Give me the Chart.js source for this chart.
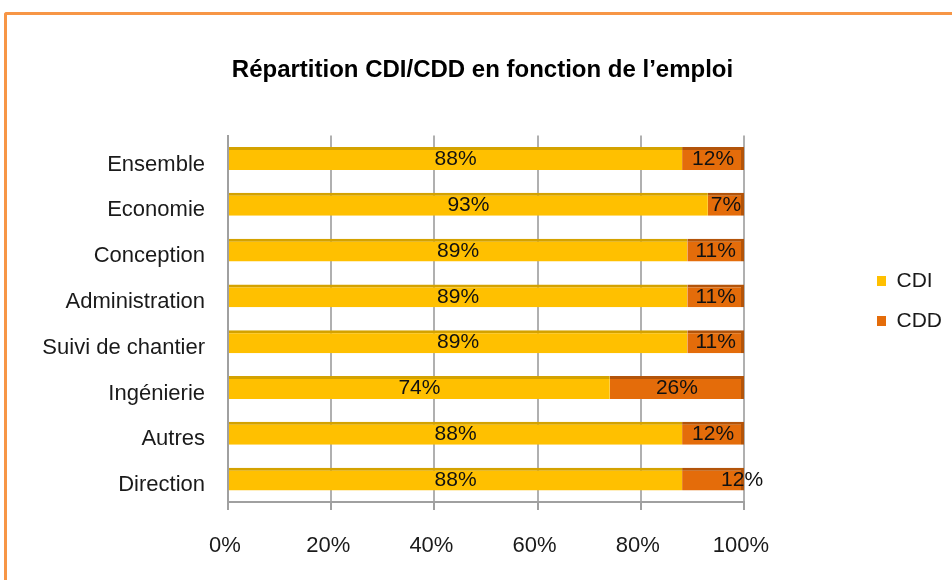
<!DOCTYPE html>
<html>
<head>
<meta charset="utf-8">
<script src="https://cdn.jsdelivr.net/npm/chart.js@4.4.1/dist/chart.umd.min.js"></script>
<style>
  html, body { margin: 0; padding: 0; background: #ffffff; overflow: hidden; }
  #wrap { position: relative; width: 952px; height: 580px; }
  #frame { position: absolute; left: 4px; top: 12px; width: 1000px; height: 700px;
           border-top: 3px solid #F79646; border-left: 3px solid #F79646; border-top-left-radius: 3px; }
  #c { position: absolute; left: 0; top: 0; }
</style>
</head>
<body>
<div id="wrap">
  <div id="frame"></div>
  <canvas id="c" width="952" height="580"></canvas>
</div>
<script>
const categories = ["Ensemble", "Economie", "Conception", "Administration", "Suivi de chantier", "Ingénierie", "Autres", "Direction"];
const cdiValues = [88, 93, 89, 89, 89, 74, 88, 88];
const cddValues = [12, 7, 11, 11, 11, 26, 12, 12];
const seriesNames = ["CDI", "CDD"];
const tickValues = [0, 20, 40, 60, 80, 100];
const chartTitle = "Répartition CDI/CDD en fonction de l’emploi";

const FONT = "'Liberation Sans', Arial, sans-serif";

const barLabels = {
  id: 'barLabels',
  afterDatasetsDraw(chart, args, opts) {
    const ctx = chart.ctx;
    ctx.save();
    ctx.font = opts.size + 'px ' + FONT;
    ctx.fillStyle = opts.color;
    ctx.textAlign = 'center';
    ctx.textBaseline = 'middle';
    chart.data.datasets.forEach((ds, di) => {
      const meta = chart.getDatasetMeta(di);
      meta.data.forEach((el, i) => {
        const p = el.getCenterPoint();
        const nudge = (opts.nudges[di + '-' + i]) || 0;
        ctx.fillText(ds.data[i] + '%', p.x + nudge, p.y + 1);
      });
    });
    ctx.restore();
  }
};

new Chart(document.getElementById('c'), {
  type: 'bar',
  data: {
    labels: categories,
    datasets: [
      {
        label: seriesNames[0],
        data: cdiValues,
        backgroundColor: '#FFC000',
        borderColor: '#D4A200',
        borderWidth: { top: 3, right: 0, bottom: 0, left: 0 },
        borderSkipped: false,
        categoryPercentage: 1,
        barPercentage: 0.5
      },
      {
        label: seriesNames[1],
        data: cddValues,
        backgroundColor: '#E46C0A',
        borderColor: '#B3540A',
        borderWidth: { top: 3, right: 3, bottom: 0, left: 0 },
        borderSkipped: false,
        categoryPercentage: 1,
        barPercentage: 0.5
      }
    ]
  },
  options: {
    indexAxis: 'y',
    responsive: false,
    animation: false,
    layout: { padding: { left: 13, right: 0, top: 20, bottom: 20 } },
    scales: {
      x: {
        stacked: true,
        min: 0,
        max: 100,
        afterBuildTicks: (s) => { s.ticks = tickValues.map(v => ({ value: v })); },
        afterFit: (s) => { s.height = 58; },
        grid: { color: '#B0B0B0', lineWidth: 2, drawTicks: true, tickLength: 8, tickColor: '#A0A0A0', tickWidth: 2 },
        border: { display: true, color: '#A0A0A0', width: 2 },
        ticks: {
          callback: (v) => v + '%',
          font: { family: FONT, size: 22 },
          color: '#1a1a1a',
          padding: 23,
          labelOffset: -3,
          maxRotation: 0
        }
      },
      y: {
        stacked: true,
        afterFit: (s) => { s.width = 215; },
        grid: { display: false, drawTicks: false },
        border: { display: true, color: '#A0A0A0', width: 2 },
        ticks: {
          font: { family: FONT, size: 22 },
          color: '#1a1a1a',
          padding: 23,
          labelOffset: 6
        }
      },
      spacer: {
        type: 'linear',
        position: 'right',
        display: true,
        afterFit: (s) => { s.width = 114; },
        grid: { display: false, drawTicks: false },
        border: { display: false },
        ticks: { display: false }
      }
    },
    plugins: {
      title: {
        display: true,
        text: chartTitle,
        color: '#000000',
        font: { family: FONT, size: 24, weight: 'bold' },
        padding: { top: 35.6, bottom: 51.2 }
      },
      legend: {
        position: 'right',
        align: 'start',
        fullSize: false,
        title: { display: true, text: '', font: { size: 10 }, padding: { top: 103.9, bottom: 0 } },
        labels: {
          font: { family: FONT, size: 21 },
          color: '#1a1a1a',
          boxWidth: 9,
          boxHeight: 10,
          padding: 19,
          generateLabels: (chart) => {
            const items = Chart.defaults.plugins.legend.labels.generateLabels(chart);
            items.forEach(it => { it.lineWidth = 0; it.strokeStyle = it.fillStyle; });
            return items;
          }
        }
      },
      tooltip: { enabled: false },
      barLabels: { size: 21, color: '#111111', nudges: { '1-7': 29 } }
    }
  },
  plugins: [barLabels]
});
</script>
</body>
</html>
